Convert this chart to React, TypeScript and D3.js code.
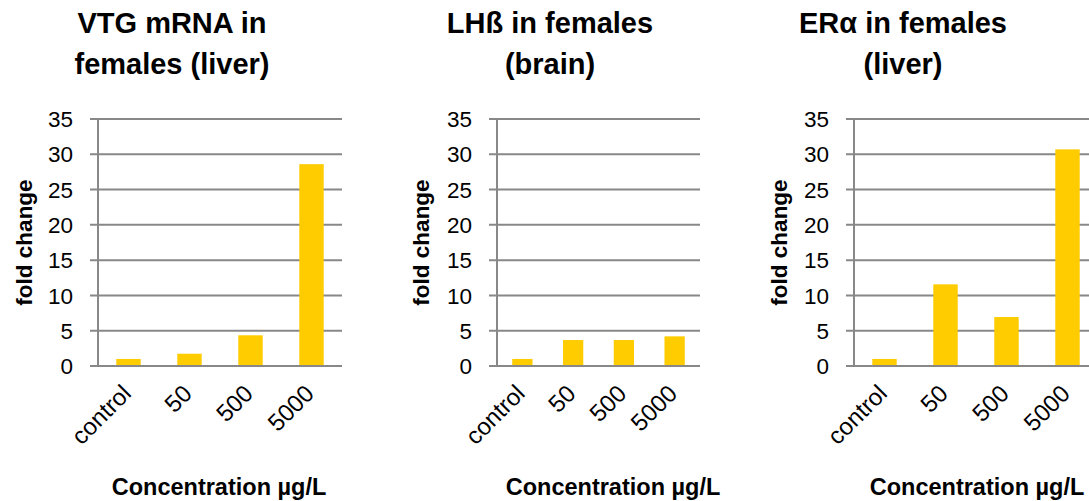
import React from "react";
import * as d3 from "d3";

const categories = ["control", "50", "500", "5000"];
const vtgValues = [1.0, 1.74, 4.35, 28.6];
const lhbValues = [1.0, 3.68, 3.68, 4.2];
const eraValues = [1.0, 11.57, 6.94, 30.7];
const yTicks = [0, 5, 10, 15, 20, 25, 30, 35];
const titles = [
  ["VTG mRNA in", "females (liver)"],
  ["LHß in females", "(brain)"],
  ["ERα in females", "(liver)"],
];
const yAxisTitle = "fold change";
const xAxisTitle = "Concentration µg/L";

const W = 1089;
const H = 501;
const FONT = "'Liberation Sans', Arial, sans-serif";
const BAR = "#FFCC00";
const GRID = "#888888";

const panelLayout = [
  { values: vtgValues, titleX: 172, axisX: 98, right: 342, yTitleX: 32, xTitleX: 219 },
  { values: lhbValues, titleX: 550, axisX: 497, right: 700, yTitleX: 429, xTitleX: 613 },
  { values: eraValues, titleX: 903, axisX: 854, right: 1098, yTitleX: 787, xTitleX: 977 },
];

const y = d3.scaleLinear().domain([0, 35]).range([366, 119]);

function Panel({ idx }: { idx: number }) {
  const p = panelLayout[idx];
  const x = d3
    .scaleBand<string>()
    .domain(categories)
    .range([p.axisX, p.right])
    .paddingInner(0.6)
    .paddingOuter(0.3);
  const band = (p.right - p.axisX) / categories.length;
  const y0 = y(0);
  return (
    <g>
      {titles[idx].map((t, i) => (
        <text
          key={i}
          x={p.titleX}
          y={33 + i * 41}
          textAnchor="middle"
          fontFamily={FONT}
          fontWeight="bold"
          fontSize={29}
          fill="#000"
        >
          {t}
        </text>
      ))}
      {yTicks.map((t) => (
        <g key={t}>
          <line x1={p.axisX - 8} x2={p.right} y1={y(t)} y2={y(t)} stroke={GRID} strokeWidth={2} />
          <text
            x={p.axisX - 25}
            y={y(t)}
            dy="0.36em"
            textAnchor="end"
            fontFamily={FONT}
            fontSize={22.5}
            fill="#000"
          >
            {t}
          </text>
        </g>
      ))}
      <line x1={p.axisX} x2={p.axisX} y1={y(35)} y2={y0} stroke={GRID} strokeWidth={2} />
      {categories.map((c, i) => (
        <rect
          key={c}
          x={x(c)}
          width={x.bandwidth()}
          y={y(p.values[i])}
          height={y0 - y(p.values[i])}
          fill={BAR}
        />
      ))}
      <line x1={p.axisX - 8} x2={p.right} y1={y0} y2={y0} stroke={GRID} strokeWidth={2} />
      {categories.map((c, i) => {
        const cx = p.axisX + band * (i + 0.5);
        return (
          <text
            key={c}
            transform={`translate(${cx + 4},${y0 + 29}) rotate(-45)`}
            textAnchor="end"
            fontFamily={FONT}
            fontSize={24}
            fill="#000"
          >
            {c}
          </text>
        );
      })}
      <text
        transform={`translate(${p.yTitleX},${(y(35) + y0) / 2}) rotate(-90)`}
        textAnchor="middle"
        fontFamily={FONT}
        fontWeight="bold"
        fontSize={22.5}
        fill="#000"
      >
        {yAxisTitle}
      </text>
      <text
        x={p.xTitleX}
        y={495}
        textAnchor="middle"
        fontFamily={FONT}
        fontWeight="bold"
        fontSize={23.5}
        fill="#000"
      >
        {xAxisTitle}
      </text>
    </g>
  );
}

export default function App() {
  return (
    <svg
      width={W}
      height={H}
      viewBox={`0 0 ${W} ${H}`}
      style={{ position: "absolute", left: 0, top: 0, background: "#fff" }}
    >
      <rect x={0} y={0} width={W} height={H} fill="#fff" />
      {panelLayout.map((_, i) => (
        <Panel key={i} idx={i} />
      ))}
    </svg>
  );
}
